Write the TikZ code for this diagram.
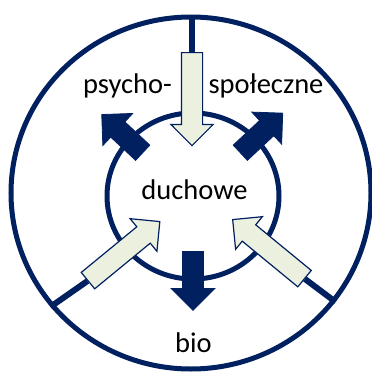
\documentclass[tikz,border=0pt]{standalone}
\usepackage{fontspec}
\setmainfont{Carlito}
\usepackage{xcolor}
\usetikzlibrary{shapes.geometric,shapes.arrows}
\definecolor{navy}{HTML}{002060}
\definecolor{sage}{HTML}{EBF1DE}
\begin{document}
\begin{tikzpicture}[
    x = 1pt, y = -1pt,
    ring/.style    = {ellipse, draw=navy, line width=5pt, inner sep=0pt},
    spoke/.style   = {draw=navy, line width=6pt},
    blockarrow/.style = {single arrow, anchor=tail, inner xsep=0pt,
                         inner ysep=10pt, single arrow tip angle=90},
    inflow/.style  = {blockarrow, draw=navy, fill=sage, line width=1.2pt,
                      single arrow head extend=10.5pt, minimum height=93pt},
    outflow/.style = {blockarrow, draw=navy, fill=navy, line width=0.8pt,
                      single arrow head extend=11.5pt},
    word/.style    = {anchor=base, font=\fontsize{28.5}{34}\selectfont}
  ]
\useasboundingbox (0,0) rectangle (372,372);
\node[ring, minimum width=360pt, minimum height=352pt] (outer) at (191,193) {};
\node[ring, minimum width=172pt, minimum height=166pt] (inner) at (193,196) {};
% spokes, under the arrows
\coordinate (top-tail)   at (192,52);
\coordinate (left-tail)  at (87.5,281);
\coordinate (right-tail) at (305,279);
\draw[spoke] (top-tail)   -- (top-tail |- outer.north);
\draw[spoke] (left-tail)  -- (outer.219.7);
\draw[spoke] (right-tail) -- (outer.323.4);
% arrows into the middle
\node[inflow, rotate=-90]   (in-top)   at (top-tail)   {};
\node[inflow, rotate=39.4]  (in-left)  at (left-tail)  {};
\node[inflow, rotate=140.6] (in-right) at (right-tail) {};
% arrows out of the middle
\node[outflow, rotate=-90, minimum height=59pt] (out-bottom) at (193,251) {};
\node[outflow, rotate=137, minimum height=56pt] (out-left)   at (143,153) {};
\node[outflow, rotate=43,  minimum height=58pt] (out-right)  at (240,153) {};
% texts
\node[word] (psycho) at (127.5,93)  {psycho-};
\node[word] (spol)   at (266,93)    {społeczne};
\node[word] (duch)   at (194.5,199) {duchowe};
\node[word] (bio)    at (193.5,352) {bio};
\end{tikzpicture}
\end{document}
